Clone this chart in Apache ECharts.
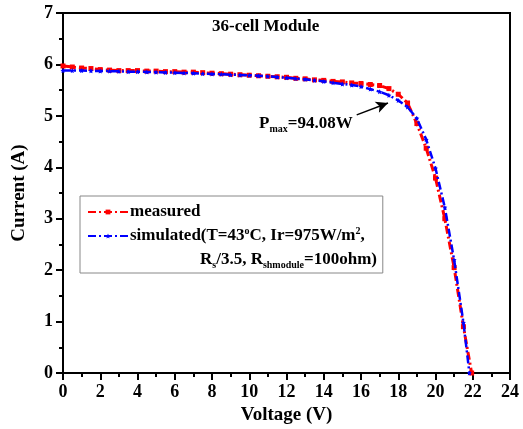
<!DOCTYPE html>
<html>
<head>
<meta charset="utf-8">
<script src="https://cdn.jsdelivr.net/npm/echarts@6/dist/echarts.min.js"></script>
<style>
  html, body { margin: 0; padding: 0; background: #fff; }
  #chart { width: 523px; height: 429px; }
</style>
</head>
<body>
<div id="chart"></div>
<script>
// measured I-V curve
const measuredV = [0, 0.5, 1, 1.5, 2, 2.5, 3, 3.5, 4, 4.5, 5, 5.5, 6, 6.5, 7, 7.5, 8, 8.5, 9, 9.5,
  10, 10.5, 11, 11.5, 12, 12.5, 13, 13.5, 14, 14.5, 15, 15.5, 16, 16.5, 17, 17.5, 18, 18.5,
  19, 19.5, 20, 20.5, 21, 21.5, 21.94];
const measuredI = [5.97, 5.95, 5.93, 5.92, 5.90, 5.89, 5.88, 5.88, 5.88, 5.87, 5.87, 5.86, 5.86, 5.85, 5.85, 5.84, 5.83, 5.82, 5.81, 5.80,
  5.79, 5.78, 5.77, 5.76, 5.75, 5.73, 5.72, 5.70, 5.69, 5.67, 5.66, 5.64, 5.63, 5.61, 5.59, 5.53, 5.42, 5.25,
  4.85, 4.37, 3.79, 3.0, 2.05, 0.9, 0];

// simulated curve
const simulatedV = [0, 0.5, 1, 1.5, 2, 2.5, 3, 3.5, 4, 4.5, 5, 5.5, 6, 6.5, 7, 7.5, 8, 8.5, 9, 9.5,
  10, 10.5, 11, 11.5, 12, 12.5, 13, 13.5, 14, 14.5, 15, 15.5, 16, 16.5, 17, 17.5, 18, 18.5,
  19, 19.5, 20, 20.5, 21, 21.5, 21.82];
const simulatedI = [5.88, 5.88, 5.88, 5.875, 5.87, 5.87, 5.865, 5.86, 5.86, 5.855, 5.85, 5.845, 5.84, 5.835, 5.83, 5.82, 5.815, 5.81, 5.80, 5.795,
  5.79, 5.78, 5.77, 5.755, 5.74, 5.725, 5.71, 5.69, 5.67, 5.645, 5.62, 5.60, 5.57, 5.52, 5.47, 5.40, 5.30, 5.17,
  4.95, 4.54, 3.98, 3.22, 2.2, 0.98, 0];

// arrow to the max power point
const arrowFrom = [15.77, 5.02];
const arrowTo = [17.45, 5.25];

const FONT = "Liberation Serif";

function zip(xs, ys) {
  return xs.map((x, i) => [x, ys[i]]);
}

const chart = echarts.init(document.getElementById("chart"));

const sup = { fontFamily: FONT, fontWeight: "bold", fontSize: 10, verticalAlign: "top", lineHeight: 8, padding: [0, 0, 12, 0] };
const sub = { fontFamily: FONT, fontWeight: "bold", fontSize: 10, verticalAlign: "bottom", lineHeight: 8, padding: [12, 0, 0, 0] };

const option = {
  animation: false,
  backgroundColor: "#fff",
  grid: {
    left: 63,
    right: 13,
    top: 13,
    bottom: 56,
    outerBoundsMode: "none",
    show: true,
    borderColor: "#000",
    borderWidth: 2,
  },
  xAxis: {
    type: "value",
    min: 0,
    max: 24,
    interval: 2,
    name: "Voltage (V)",
    nameLocation: "middle",
    nameGap: 32,
    nameTextStyle: { fontFamily: FONT, fontWeight: "bold", fontSize: 19, color: "#000" },
    axisLine: { lineStyle: { color: "#000", width: 2 } },
    axisTick: { length: 7, lineStyle: { color: "#000", width: 2 } },
    minorTick: { show: true, splitNumber: 2, length: 4, lineStyle: { color: "#000", width: 2 } },
    axisLabel: { fontFamily: FONT, fontWeight: "bold", fontSize: 18, color: "#000", margin: 10 },
    splitLine: { show: false },
  },
  yAxis: {
    type: "value",
    min: 0,
    max: 7,
    interval: 1,
    name: "Current (A)",
    nameLocation: "middle",
    nameGap: 34,
    nameTextStyle: { fontFamily: FONT, fontWeight: "bold", fontSize: 19, color: "#000" },
    axisLine: { lineStyle: { color: "#000", width: 2 } },
    axisTick: { length: 7, lineStyle: { color: "#000", width: 2 } },
    minorTick: { show: true, splitNumber: 2, length: 4, lineStyle: { color: "#000", width: 2 } },
    axisLabel: { fontFamily: FONT, fontWeight: "bold", fontSize: 18, color: "#000", margin: 10 },
    splitLine: { show: false },
  },
  legend: {
    left: 80,
    top: 196,
    orient: "vertical",
    itemWidth: 40,
    itemHeight: 6,
    itemGap: 4,
    padding: [6, 18, 25, 7],
    borderColor: "#888",
    borderWidth: 1,
    data: ["measured", "simulated"],
    formatter: (name) => {
      if (name === "measured") return "measured";
      return "simulated(T=43{sup|o}C, Ir=975W/m{sup|2},";
    },
    textStyle: {
      fontFamily: FONT,
      fontWeight: "bold",
      fontSize: 17,
      lineHeight: 20,
      color: "#000",
      padding: [0, 0, 0, -3],
      rich: { sup },
    },
  },
  graphic: [
    {
      type: "text",
      left: 200,
      top: 248,
      style: {
        text: "R{sub|s}/3.5, R{sub|shmodule}=100ohm)",
        fontFamily: FONT,
        fontWeight: "bold",
        fontSize: 17,
        lineHeight: 20,
        fill: "#000",
        rich: { sub },
      },
    },
    {
      type: "text",
      left: 212,
      top: 18,
      style: { text: "36-cell Module", fontFamily: FONT, fontWeight: "bold", fontSize: 17, fill: "#000" },
    },
    {
      type: "text",
      left: 259,
      top: 112,
      style: {
        text: "P{sub|max}=94.08W",
        fontFamily: FONT,
        fontWeight: "bold",
        fontSize: 17,
        lineHeight: 20,
        fill: "#000",
        rich: { sub },
      },
    },
  ],
  series: [
    {
      name: "measured",
      type: "line",
      data: zip(measuredV, measuredI),
      symbol: "rect",
      symbolSize: 5,
      itemStyle: { color: "#ff0000" },
      lineStyle: { color: "#ff0000", width: 3, type: [8, 3, 2, 3] },
      z: 2,
    },
    {
      name: "simulated",
      type: "line",
      data: zip(simulatedV, simulatedI),
      symbol: "path://M0,-10 L2.9,-4 9.5,-3 4.7,1.5 5.9,8 0,5 -5.9,8 -4.7,1.5 -9.5,-3 -2.9,-4 Z",
      symbolSize: 5,
      itemStyle: { color: "#0000ff" },
      lineStyle: { color: "#0000ff", width: 2.5, type: [8, 3, 2, 3] },
      z: 3,
      markLine: {
        silent: true,
        symbol: ["none", "arrow"],
        symbolSize: [9, 12],
        label: { show: false },
        lineStyle: { color: "#000", width: 1.5, type: "solid" },
        data: [[{ coord: arrowFrom }, { coord: arrowTo }]],
      },
    },
  ],
};

chart.setOption(option);
</script>
</body>
</html>
